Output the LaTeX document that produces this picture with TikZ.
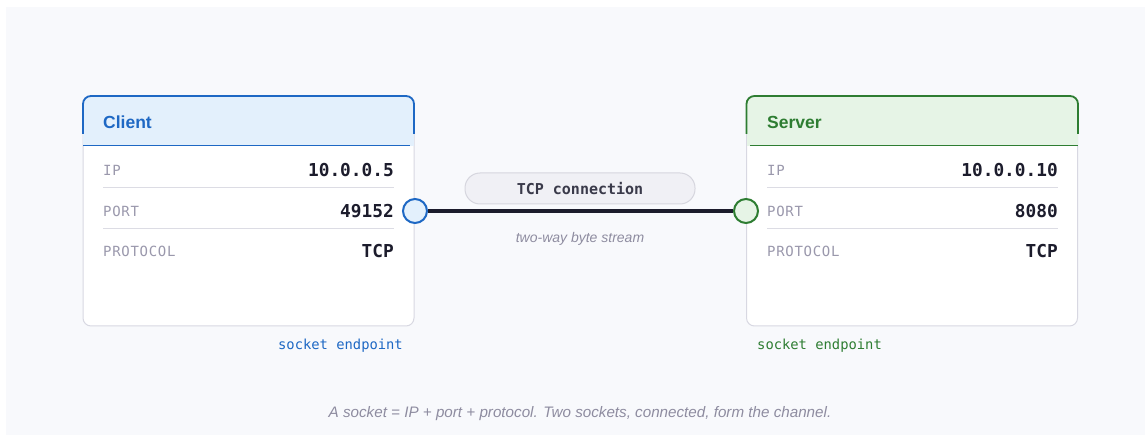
\documentclass[tikz,border=0pt]{standalone}
\usepackage{fontspec}
\setmainfont{Liberation Sans}
\newfontfamily\monof{DejaVu Sans Mono}
\newfontfamily\monosp[LetterSpace=5]{DejaVu Sans Mono}
\definecolor{bgc}{HTML}{F8F9FC}
\definecolor{boxline}{HTML}{D8D8E2}
\definecolor{cblue}{HTML}{1E68C4}
\definecolor{cbluefill}{HTML}{E3F0FC}
\definecolor{sgreen}{HTML}{2E7D32}
\definecolor{sgreenfill}{HTML}{E6F4E6}
\definecolor{lblgray}{HTML}{9A98AC}
\definecolor{valdark}{HTML}{1C1C2C}
\definecolor{divc}{HTML}{DCDCE4}
\definecolor{pillfill}{HTML}{F0F0F5}
\definecolor{pillline}{HTML}{D6D6DE}
\definecolor{pilltext}{HTML}{3A3A4A}
\definecolor{captc}{HTML}{8E8CA0}
\tikzset{
  boxbody/.style={draw=boxline, line width=1pt, fill=white, rounded corners=8pt, minimum width=331pt, minimum height=230pt, inner sep=0pt},
  lbl/.style={anchor=west, inner sep=0pt, text=lblgray, font=\monosp\fontsize{14}{16}\selectfont},
  val/.style={anchor=east, inner sep=0pt, text=valdark, font=\monof\bfseries\fontsize{17.8}{20}\selectfont},
  hdr/.style={anchor=west, inner sep=0pt, font=\bfseries\fontsize{17.5}{20}\selectfont},
  divider/.style={draw=divc, line width=1pt},
  portc/.style={circle, inner sep=0pt, minimum size=24pt, line width=2pt},
  note/.style={inner sep=0pt, font=\monof\fontsize{13.8}{16}\selectfont},
}
\begin{document}
\begin{tikzpicture}[x=1pt,y=-1pt]
\useasboundingbox (0,0) rectangle (1145,435);
\fill[white] (0,0) rectangle (1145,435);
\fill[bgc] (6,7) rectangle (1145,435);

% Client box
\node[boxbody] (client) at (248.5,211) {};
\begin{scope}
\clip[rounded corners=8pt] (83,96) rectangle (414,326);
\fill[cbluefill] (83,96) rectangle (414,146);
\end{scope}
\draw[cblue, line width=1.8pt, rounded corners=8pt] (83,134) -- (83,96) -- (414,96) -- (414,134);
\draw[cblue, line width=1.3pt] (83,145.5) -- (410,145.5);
\node[hdr, text=cblue] (chdr) at (103,122) {Client};
\node[lbl] (cipl) at (103,170.5) {IP};
\node[val] (cipv) at (394,170.5) {10.0.0.5};
\draw[divider] (103,188) -- (394,188);
\node[lbl] (cportl) at (103,211.5) {PORT};
\node[val] (cportv) at (394,211.5) {49152};
\draw[divider] (103,229) -- (394,229);
\node[lbl] (cprotl) at (103,251.5) {PROTOCOL};
\node[val] (cprotv) at (394,251.5) {TCP};

% Server box
\node[boxbody] (server) at (912,211) {};
\begin{scope}
\clip[rounded corners=8pt] (746.5,96) rectangle (1078,326);
\fill[sgreenfill] (746.5,96) rectangle (1078,146);
\end{scope}
\draw[sgreen, line width=1.8pt, rounded corners=8pt] (746.5,134) -- (746.5,96) -- (1078,96) -- (1078,134);
\draw[sgreen, line width=1.3pt] (750,145.5) -- (1078,145.5);
\node[hdr, text=sgreen] (shdr) at (767,122) {Server};
\node[lbl] (sipl) at (767,170.5) {IP};
\node[val] (sipv) at (1058,170.5) {10.0.0.10};
\draw[divider] (767,188) -- (1058,188);
\node[lbl] (sportl) at (767,211.5) {PORT};
\node[val] (sportv) at (1058,211.5) {8080};
\draw[divider] (767,229) -- (1058,229);
\node[lbl] (sprotl) at (767,251.5) {PROTOCOL};
\node[val] (sprotv) at (1058,251.5) {TCP};

% connection
\node[portc, draw=cblue, fill=cbluefill] (cport) at (415,211) {};
\node[portc, draw=sgreen, fill=sgreenfill] (sport) at (746,211) {};
\draw[valdark, line width=3.5pt] (cport.east) -- (sport.west);
\node[draw=pillline, fill=pillfill, line width=1pt, rounded corners=15pt, minimum width=230pt, minimum height=31pt, inner sep=0pt, text=pilltext, font=\monof\bfseries\fontsize{15}{18}\selectfont] (pill) at (580,188.5) {TCP connection};
\node[inner sep=0pt, text=captc, font=\itshape\fontsize{14}{16}\selectfont] (stream) at (580,238.5) {two-way byte stream};

% notes
\node[note, text=cblue, anchor=east] (cnote) at (403,345.5) {socket endpoint};
\node[note, text=sgreen, anchor=west] (snote) at (757,345.5) {socket endpoint};
\node[inner sep=0pt, text=captc, font=\itshape\fontsize{15.2}{18}\selectfont] (caption) at (580,413.5) {A socket = IP + port + protocol. Two sockets, connected, form the channel.};
\end{tikzpicture}
\end{document}
